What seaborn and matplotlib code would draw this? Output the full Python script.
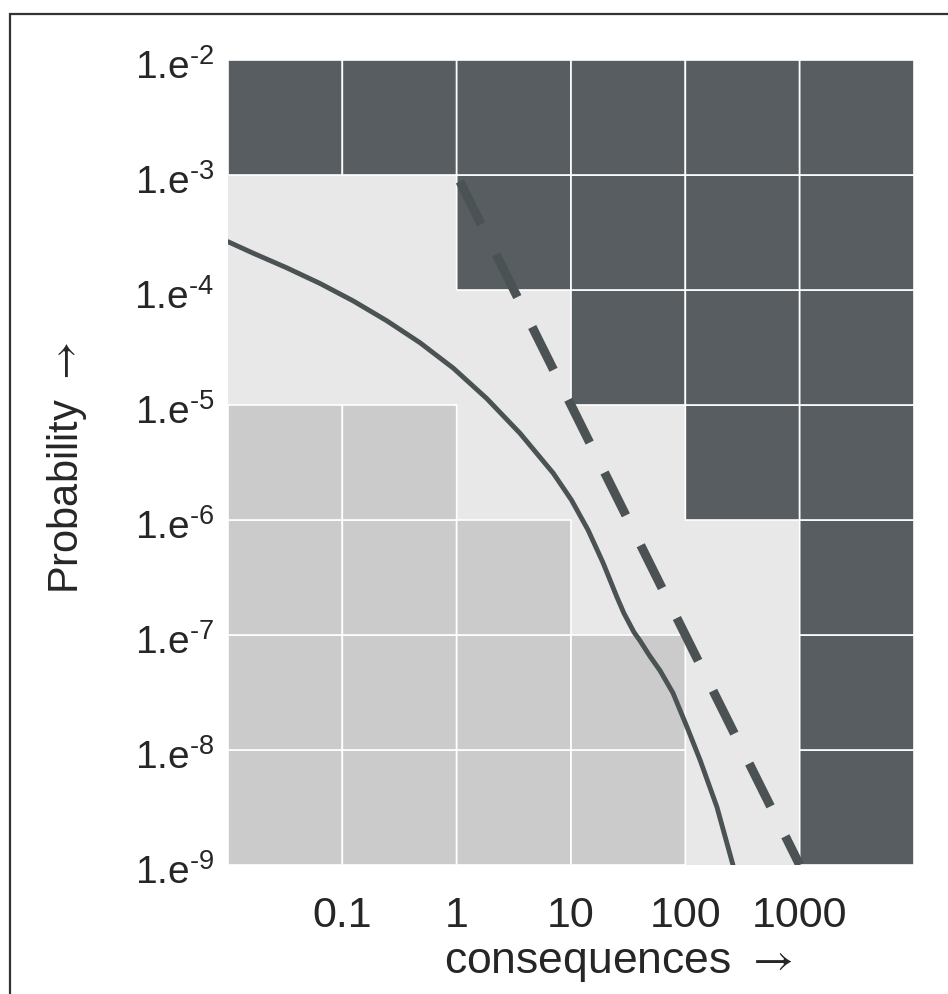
import numpy as np
import matplotlib
matplotlib.use('Agg')
import matplotlib.pyplot as plt
import matplotlib.transforms as mtransforms
from matplotlib.colors import ListedColormap
from matplotlib.patches import Rectangle
import seaborn as sns

# cell edges (decades) and zone codes: 0 = light, 1 = mid grey, 2 = dark
x_edges = [0.01, 0.1, 1, 10, 100, 1000, 10000]
y_edges = [1e-9, 1e-8, 1e-7, 1e-6, 1e-5, 1e-4, 1e-3, 1e-2]
zones = [
    [1, 1, 1, 1, 0, 2],   # 1e-9 .. 1e-8
    [1, 1, 1, 1, 0, 2],   # 1e-8 .. 1e-7
    [1, 1, 1, 0, 0, 2],   # 1e-7 .. 1e-6
    [1, 1, 0, 0, 2, 2],   # 1e-6 .. 1e-5
    [0, 0, 0, 2, 2, 2],   # 1e-5 .. 1e-4
    [0, 0, 2, 2, 2, 2],   # 1e-4 .. 1e-3
    [2, 2, 2, 2, 2, 2],   # 1e-3 .. 1e-2
]

# solid curve
curve_c = [0.01, 0.0166, 0.0326, 0.0638, 0.125, 0.244, 0.478, 0.935, 1.83, 3.58,
           7.0, 10.1, 14.1, 19.1, 25.2, 29.0, 35.5, 40.2, 48.7, 60.1, 78.0, 103.5,
           134.6, 189, 261]
curve_p = [2.63e-4, 2.09e-4, 1.56e-4, 1.14e-4, 8.02e-5, 5.41e-5, 3.48e-5, 2.09e-5,
           1.14e-5, 5.68e-6, 2.55e-6, 1.49e-6, 8.18e-7, 4.23e-7, 2.14e-7, 1.55e-7,
           1.06e-7, 8.9e-8, 6.6e-8, 4.9e-8, 3.13e-8, 1.58e-8, 8.18e-9, 3.19e-9, 1e-9]

# dashed limit line
limit_c = [1, 1000]
limit_p = [1e-3, 1e-9]

x_ticks = [0.1, 1, 10, 100, 1000]
x_labels = ['0.1', '1', '10', '100', '1000']
y_ticks = [1e-2, 1e-3, 1e-4, 1e-5, 1e-6, 1e-7, 1e-8, 1e-9]
y_labels = ['1.e$^{\\text{-2}}$', '1.e$^{\\text{-3}}$', '1.e$^{\\text{-4}}$',
            '1.e$^{\\text{-5}}$', '1.e$^{\\text{-6}}$', '1.e$^{\\text{-7}}$',
            '1.e$^{\\text{-8}}$', '1.e$^{\\text{-9}}$']

dark = '#575d60'
mid = '#cbcbcb'
light = '#e8e8e8'
line_col = '#4b5254'

sns.set_style('white')
plt.rcParams['font.family'] = ['Liberation Sans', 'DejaVu Sans']
plt.rcParams['mathtext.fontset'] = 'custom'
plt.rcParams['mathtext.rm'] = 'Liberation Sans'
plt.rcParams['mathtext.sf'] = 'STIXGeneral'
plt.rcParams['mathtext.default'] = 'regular'

fig = plt.figure(figsize=(9.48, 9.94), dpi=100)
ax = fig.add_axes([228 / 948, 129 / 994, 686 / 948, 805 / 994])
ax.set_facecolor(light)

# frame around the figure (only top/left visible)
fig.add_artist(Rectangle((10 / 948, -0.05), 1.2, 1.05 - 14 / 994, transform=fig.transFigure,
                         fill=False, edgecolor='#333333', linewidth=1.6))

z = np.ma.masked_equal(np.array(zones), 0)
ax.pcolor(x_edges, y_edges, z, cmap=ListedColormap([mid, dark]), vmin=1, vmax=2,
          edgecolors='white', linewidth=1.2, zorder=1)

sns.lineplot(x=curve_c, y=curve_p, sort=False, color=line_col, linewidth=3.5,
             ax=ax, zorder=3)
sns.lineplot(x=limit_c, y=limit_p, sort=False, color=line_col, linewidth=6.5,
             linestyle=(8.2, (5.3, 3.7)), solid_capstyle='butt', dash_capstyle='butt',
             ax=ax, zorder=3)

ax.set_xscale('log')
ax.set_yscale('log')
ax.set_xlim(0.01, 10000)
ax.set_ylim(1e-9, 1e-2)
ax.minorticks_off()
ax.set_xticks(x_ticks)
ax.set_xticklabels(x_labels, fontsize=31)
ax.set_yticks(y_ticks)
ax.set_yticklabels(y_labels, fontsize=28)
ax.tick_params(axis='both', length=0)
ax.tick_params(axis='x', pad=22)
ax.tick_params(axis='y', pad=10)
shift = mtransforms.ScaledTranslation(0, -3 / 72, fig.dpi_scale_trans)
for lab in ax.get_yticklabels():
    lab.set_transform(lab.get_transform() + shift)
for s in ax.spines.values():
    s.set_visible(False)

ax.set_xlabel('consequences $\\mathsf{\\rightarrow}$', fontsize=32)
ax.xaxis.label.set_va('baseline')
ax.xaxis.set_label_coords((618 - 228) / 686, (865 - 973) / 805)
ax.set_ylabel('Probability $\\mathsf{\\rightarrow}$', fontsize=30)
ax.yaxis.label.set_va('center')
ax.yaxis.set_label_coords((67 - 228) / 686, (865 - 468) / 805)

fig.savefig('out.png', dpi=100)
